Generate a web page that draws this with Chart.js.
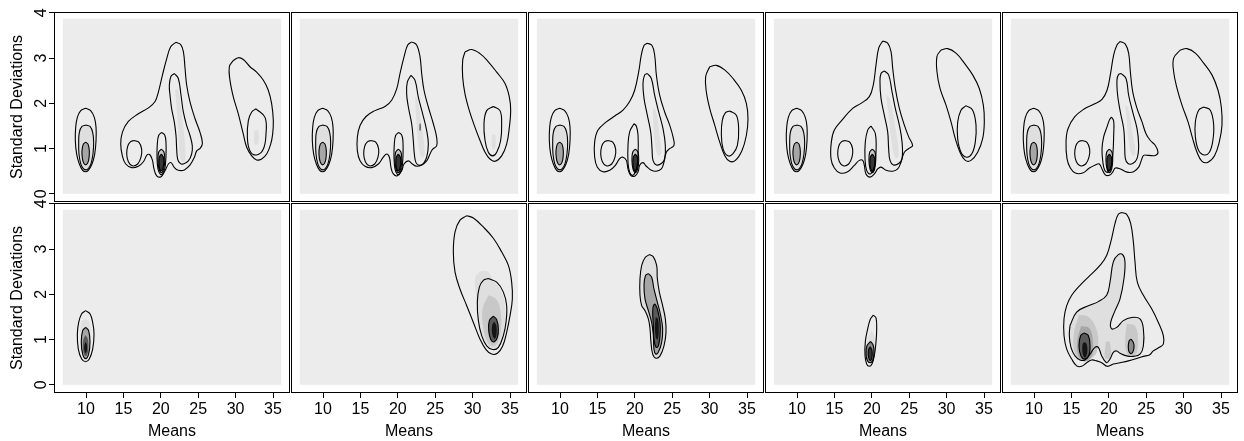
<!DOCTYPE html>
<html><head><meta charset="utf-8">
<script src="https://cdn.jsdelivr.net/npm/chart.js@4.4.1/dist/chart.umd.min.js"></script>
<style>
html,body{margin:0;padding:0;background:#fff;}
#wrap{position:relative;width:1244px;height:441px;overflow:hidden;background:#fff;}
#wrap canvas{position:absolute;}
</style></head><body><div id="wrap"></div>
<script>
// ---------- axes ----------
const xTicks = [10, 15, 20, 25, 30, 35];
const yTicks = [0, 1, 2, 3, 4];
const xRange = [5.72, 37.27];
const yRange = [-0.18, 4.02];
const gridExtentX = [6.9, 36.1];
const gridExtentY = [0, 3.87];
const xTitle = 'Means';
const yTitle = 'Standard Deviations';

// ---------- top row: contours shared by all five panels ----------
const topBlob10Outer = [[9.95,1.89],[10.62,1.84],[11.11,1.69],[11.34,1.47],[11.34,1.18],[11.16,0.88],[10.80,0.66],[10.31,0.52],[9.95,0.49],[9.55,0.52],[9.11,0.66],[8.75,0.88],[8.57,1.18],[8.62,1.47],[8.84,1.69],[9.29,1.84]];
const topBlob10Mid = [[10.00,1.52],[10.53,1.49],[10.89,1.36],[11.02,1.14],[10.93,0.88],[10.67,0.67],[10.31,0.56],[10.00,0.53],[9.64,0.56],[9.29,0.67],[9.06,0.88],[9.02,1.14],[9.11,1.36],[9.46,1.49]];
const topBlob10Inner = [[9.95,1.14],[10.27,1.10],[10.44,0.95],[10.40,0.79],[10.22,0.68],[9.95,0.64],[9.69,0.68],[9.51,0.79],[9.46,0.95],[9.64,1.10]];
const topLeftLoop = [[16.42,1.18],[17.08,1.14],[17.44,0.99],[17.35,0.81],[16.91,0.66],[16.19,0.62],[15.66,0.71],[15.44,0.88],[15.57,1.05],[15.93,1.15]];
const topBlob20Mid = [[20.07,0.99],[20.43,0.92],[20.52,0.73],[20.38,0.55],[20.07,0.47],[19.76,0.55],[19.62,0.73],[19.71,0.92]];
const topBlob20Inner = [[20.07,0.88],[20.34,0.81],[20.38,0.66],[20.25,0.55],[20.07,0.51],[19.85,0.55],[19.76,0.66],[19.80,0.81]];

// ---------- panel 1 ----------
const p1BigOuter = [[21.99,3.35],[22.66,3.30],[23.02,3.14],[23.24,2.77],[23.46,2.40],[23.91,2.03],[24.58,1.66],[25.24,1.36],[25.56,1.12],[25.29,1.01],[24.80,0.95],[24.49,0.81],[23.91,0.64],[23.15,0.53],[22.35,0.52],[21.81,0.58],[21.37,0.69],[21.01,0.66],[20.56,0.51],[20.03,0.38],[19.45,0.40],[19.09,0.55],[18.87,0.75],[18.51,0.87],[18.16,0.86],[17.67,0.71],[17.00,0.61],[16.11,0.58],[15.31,0.66],[14.86,0.84],[14.64,1.10],[14.86,1.36],[15.66,1.60],[17.00,1.77],[18.34,1.90],[19.23,2.04],[19.67,2.25],[20.21,2.62],[20.79,2.99],[21.32,3.25]];
const p1Blob20Outer = [[20.11,1.36],[20.52,1.30],[20.69,1.14],[20.69,0.84],[20.56,0.58],[20.25,0.45],[19.94,0.43],[19.62,0.55],[19.49,0.81],[19.53,1.10],[19.71,1.29]];
const p1LongInner = [[21.81,2.66],[22.34,2.55],[22.70,2.18],[23.01,1.81],[23.46,1.51],[23.90,1.29],[24.21,1.06],[24.12,0.88],[23.68,0.73],[23.01,0.66],[22.56,0.68],[22.25,0.77],[22.12,0.99],[22.03,1.29],[21.81,1.58],[21.45,1.88],[21.23,2.18],[21.14,2.40],[21.36,2.60]];
const p1RightOuter = [[29.70,2.95],[30.36,3.01],[31.03,2.97],[31.92,2.81],[32.81,2.69],[33.71,2.51],[34.37,2.29],[34.82,1.99],[35.04,1.62],[34.95,1.32],[34.69,1.10],[34.15,0.88],[33.48,0.77],[32.81,0.75],[32.15,0.84],[31.48,1.03],[31.03,1.32],[30.36,1.77],[29.70,2.14],[29.25,2.51],[29.16,2.81]];
const p1RightInner = [[32.73,1.88],[33.93,1.69],[34.06,1.32],[33.71,0.99],[32.81,0.86],[31.92,0.95],[31.57,1.25],[31.70,1.62],[32.15,1.81]];
const p1Strip = [[21.9,2.3],[22.3,2.3],[22.9,1.6],[23.3,0.9],[23.1,0.7],[22.6,0.8],[22.3,1.5]];
const p1RightPatch = [[32.5,1.4],[33.0,1.4],[33.0,1.1],[32.5,1.1]];

// ---------- panel 2 ----------
const p2BigOuter = [[21.85,3.36],[22.52,3.29],[22.97,3.03],[23.19,2.66],[23.50,2.29],[24.08,1.92],[24.75,1.55],[25.19,1.25],[25.19,1.06],[24.66,0.99],[24.30,0.88],[23.86,0.73],[23.19,0.64],[22.52,0.61],[21.94,0.66],[21.41,0.73],[20.83,0.66],[20.52,0.51],[19.94,0.40],[19.40,0.44],[19.09,0.58],[18.87,0.81],[18.51,0.88],[18.06,0.81],[17.40,0.66],[16.50,0.58],[15.61,0.61],[14.95,0.73],[14.59,0.95],[14.59,1.25],[14.95,1.51],[15.75,1.71],[16.95,1.84],[18.29,1.93],[19.18,2.07],[19.85,2.32],[20.29,2.66],[20.83,3.03],[21.32,3.29]];
const p2LongInner = [[21.76,2.62],[22.30,2.51],[22.74,2.14],[23.32,1.77],[23.86,1.40],[24.08,1.10],[23.86,0.81],[23.41,0.67],[22.88,0.63],[22.43,0.69],[22.21,0.88],[22.07,1.18],[21.85,1.55],[21.41,1.92],[21.18,2.21],[21.27,2.47]];
const p2RightOuter = [[28.98,3.14],[29.87,3.19],[30.99,3.10],[32.10,2.92],[33.22,2.69],[34.33,2.44],[34.91,2.14],[35.09,1.84],[34.91,1.47],[34.55,1.10],[33.88,0.84],[32.99,0.72],[32.32,0.77],[31.66,0.92],[30.99,1.18],[30.32,1.47],[29.56,1.84],[28.98,2.21],[28.67,2.58],[28.67,2.95]];
const p2RightInner = [[32.77,1.93],[33.66,1.84],[33.88,1.55],[33.75,1.18],[33.22,0.92],[32.68,0.84],[32.10,0.92],[31.66,1.18],[31.52,1.55],[31.88,1.84]];
const p2Strip = [[22.3,2.14],[22.6,2.1],[23.2,1.5],[23.6,0.9],[23.2,0.8],[22.8,1.0],[22.5,1.6]];
const p2Spot = [[22.9,1.55],[23.05,1.55],[23.05,1.4],[22.9,1.4]];
const p2RightPatch = [[32.6,1.3],[33.0,1.3],[33.0,1.0],[32.6,1.0]];

// ---------- panel 3 ----------
const p3BigOuter = [[21.67,3.33],[22.30,3.28],[22.65,3.07],[22.88,2.63],[23.32,2.18],[23.99,1.81],[24.66,1.52],[25.11,1.26],[25.24,1.07],[24.66,1.00],[24.21,0.92],[23.90,0.70],[23.55,0.55],[22.88,0.50],[22.21,0.52],[21.54,0.61],[21.09,0.69],[20.65,0.63],[20.43,0.48],[19.98,0.39],[19.45,0.41],[19.09,0.55],[18.87,0.74],[18.42,0.81],[17.97,0.78],[17.40,0.63],[16.64,0.52],[15.75,0.49],[14.99,0.59],[14.63,0.81],[14.63,1.15],[15.08,1.41],[16.19,1.59],[17.31,1.72],[18.42,1.85],[19.31,2.04],[19.98,2.29],[20.52,2.70],[20.87,3.07],[21.23,3.28]];
const p3Blob20Outer = [[19.89,1.55],[20.20,1.50],[20.43,1.30],[20.43,0.85],[20.20,0.55],[19.76,0.41],[19.31,0.48],[19.09,0.70],[19.09,1.07],[19.31,1.37]];
const p3LongInner = [[21.67,2.66],[22.21,2.55],[22.65,2.18],[23.19,1.81],[23.77,1.44],[24.08,1.07],[23.99,0.78],[23.55,0.67],[22.88,0.64],[22.43,0.74],[22.30,1.00],[22.12,1.37],[21.67,1.74],[21.23,2.11],[21.09,2.44],[21.32,2.63]];
const p3RightOuter = [[30.01,2.81],[30.90,2.84],[32.01,2.74],[33.13,2.55],[34.24,2.29],[34.91,2.00],[35.13,1.66],[34.91,1.29],[34.33,0.96],[33.44,0.74],[32.68,0.72],[32.01,0.85],[31.34,1.15],[30.68,1.52],[30.01,1.89],[29.56,2.26],[29.47,2.59]];
const p3RightInner = [[32.68,1.83],[33.57,1.74],[33.88,1.44],[33.71,1.07],[33.13,0.89],[32.45,0.84],[31.79,1.00],[31.57,1.33],[31.70,1.63],[32.10,1.79]];
const p3Strip = [[22.4,1.9],[22.8,1.85],[23.3,1.3],[23.55,0.9],[23.1,0.85],[22.7,1.1],[22.5,1.5]];

// ---------- panel 4 ----------
const p4BigOuter = [[21.45,3.38],[22.12,3.33],[22.56,3.15],[22.79,2.78],[23.14,2.33],[23.68,1.89],[24.35,1.52],[24.93,1.26],[25.46,1.07],[25.02,1.01],[24.35,0.92],[23.90,0.70],[23.46,0.55],[22.79,0.50],[21.90,0.52],[21.23,0.59],[20.78,0.55],[20.34,0.44],[19.76,0.37],[19.22,0.44],[19.00,0.63],[18.78,0.74],[18.33,0.74],[17.66,0.63],[16.77,0.49],[15.75,0.46],[14.99,0.57],[14.54,0.78],[14.59,1.15],[14.99,1.41],[16.01,1.63],[17.44,1.89],[18.55,2.00],[19.67,2.15],[20.20,2.41],[20.56,2.85],[20.92,3.22]];
const p4Blob20Outer = [[19.89,1.50],[20.47,1.33],[20.56,0.92],[20.34,0.59],[19.80,0.44],[19.31,0.52],[19.09,0.78],[19.13,1.15],[19.45,1.41]];
const p4LongInner = [[21.67,2.72],[22.25,2.63],[22.70,2.26],[23.14,1.89],[23.68,1.52],[24.04,1.15],[24.04,0.78],[23.59,0.67],[22.88,0.64],[22.43,0.74],[22.25,1.00],[22.12,1.37],[21.67,1.74],[21.23,2.11],[21.09,2.48],[21.23,2.66]];
const p4RightOuter = [[29.25,3.18],[30.14,3.21],[31.25,3.11],[32.37,2.89],[33.48,2.63],[34.37,2.33],[34.91,1.96],[35.04,1.59],[34.82,1.22],[34.15,0.92],[33.26,0.74],[32.50,0.74],[31.79,0.92],[31.16,1.22],[30.59,1.59],[29.92,1.96],[29.12,2.33],[28.71,2.70],[28.71,3.04]];
const p4RightInner = [[32.59,1.95],[33.48,1.85],[33.93,1.52],[33.84,1.15],[33.39,0.89],[32.68,0.81],[31.92,0.92],[31.48,1.22],[31.48,1.59],[31.92,1.85]];
const p4Strip = [[21.9,2.2],[22.4,2.1],[23.2,1.4],[23.6,0.85],[23.1,0.8],[22.6,1.2],[22.2,1.8]];

// ---------- panel 5 ----------
const p5BigOuter = [[21.54,3.37],[22.21,3.31],[22.65,3.11],[22.88,2.70],[23.19,2.26],[23.77,1.89],[24.44,1.59],[24.97,1.33],[25.55,1.18],[26.22,1.07],[26.58,0.92],[26.22,0.85],[25.33,0.85],[24.66,0.85],[24.35,0.74],[23.99,0.59],[23.32,0.49],[22.43,0.48],[21.54,0.55],[20.87,0.57],[20.52,0.48],[20.07,0.41],[19.53,0.42],[19.09,0.55],[18.73,0.66],[18.20,0.64],[17.40,0.57],[16.50,0.46],[15.52,0.46],[14.86,0.57],[14.41,0.78],[14.28,1.15],[14.54,1.44],[15.43,1.70],[16.64,1.87],[17.97,1.98],[19.09,2.09],[19.76,2.29],[20.20,2.63],[20.65,3.07],[21.09,3.29]];
const p5Blob20Outer = [[20.34,1.70],[20.65,1.61],[20.65,1.29],[20.56,0.92],[20.34,0.63],[19.89,0.48],[19.45,0.52],[19.18,0.74],[19.09,1.00],[19.31,1.26],[19.76,1.48],[20.07,1.63]];
const p5LongInner = [[21.67,2.66],[22.30,2.55],[22.65,2.18],[23.19,1.81],[23.77,1.44],[23.99,1.07],[23.77,0.78],[23.19,0.67],[22.56,0.67],[22.21,0.78],[22.12,1.07],[21.99,1.44],[21.54,1.81],[21.18,2.18],[21.09,2.52],[21.32,2.64]];
const p5RightOuter = [[29.56,3.18],[30.45,3.21],[31.57,3.11],[32.68,2.89],[33.79,2.63],[34.60,2.29],[35.04,1.92],[35.13,1.52],[34.77,1.15],[34.15,0.85],[33.26,0.70],[32.46,0.72],[31.79,0.92],[31.21,1.22],[30.59,1.59],[29.78,1.96],[29.12,2.33],[28.67,2.70],[28.67,3.00]];
const p5RightInner = [[32.68,1.92],[33.57,1.85],[34.02,1.52],[33.88,1.15],[33.44,0.92],[32.77,0.86],[32.01,0.96],[31.57,1.26],[31.57,1.59],[32.01,1.85]];
const p5Strip = [[22.2,1.96],[22.6,1.9],[23.2,1.3],[23.55,0.9],[23.1,0.85],[22.6,1.2],[22.4,1.6]];

// ---------- panel 6 ----------
const p6Outer = [[9.95,1.64],[10.53,1.57],[10.89,1.38],[11.07,1.12],[10.89,0.79],[10.44,0.57],[9.95,0.51],[9.42,0.57],[8.97,0.79],[8.84,1.12],[9.02,1.38],[9.42,1.57]];
const p6Inner = [[9.95,1.27],[10.35,1.20],[10.53,0.94],[10.35,0.68],[9.95,0.58],[9.55,0.68],[9.37,0.94],[9.55,1.20]];
const p6Light = [[9.9,1.45],[10.4,1.4],[10.6,1.1],[10.4,0.8],[9.9,0.7],[9.4,0.8],[9.25,1.1],[9.4,1.4]];
const p6Dark = [[9.95,1.1],[10.25,1.0],[10.3,0.8],[10.1,0.65],[9.8,0.65],[9.6,0.8],[9.65,1.0]];
const p6Core = [[9.95,0.95],[10.12,0.88],[10.12,0.76],[9.95,0.7],[9.78,0.76],[9.78,0.88]];

// ---------- panel 7 ----------
const p7Outer = [[29.21,3.74],[30.10,3.69],[31.43,3.49],[32.77,3.24],[33.88,2.94],[34.78,2.64],[35.22,2.27],[35.31,1.90],[35.00,1.53],[34.55,1.16],[34.02,0.86],[33.31,0.70],[32.55,0.68],[31.79,0.78],[30.99,1.01],[30.10,1.38],[29.21,1.75],[28.31,2.12],[27.65,2.49],[27.42,2.94],[27.65,3.38],[28.31,3.64]];
const p7Mid = [[32.10,2.35],[33.22,2.27],[34.11,2.05],[34.55,1.75],[34.46,1.38],[34.11,1.09],[33.44,0.83],[32.68,0.78],[31.88,0.86],[31.21,1.09],[30.77,1.42],[30.63,1.83],[30.90,2.16],[31.43,2.31]];
const p7Inner = [[32.77,1.52],[33.22,1.44],[33.44,1.24],[33.31,1.05],[32.86,0.95],[32.41,1.01],[32.15,1.20],[32.24,1.42]];
const p7Light = [[30.99,2.51],[31.97,2.51],[32.77,2.31],[33.88,2.05],[34.33,1.68],[34.20,1.24],[33.66,0.90],[32.77,0.81],[31.88,0.90],[31.21,1.16],[30.77,1.53],[30.45,1.98],[30.32,2.35]];
const p7Glow = [[32.10,1.98],[33.13,1.90],[33.75,1.61],[33.75,1.16],[33.22,0.90],[32.55,0.85],[31.88,0.98],[31.43,1.27],[31.34,1.68]];
const p7Core = [[32.85,1.40],[33.15,1.32],[33.2,1.12],[32.95,1.02],[32.65,1.1],[32.6,1.3]];

// ---------- panel 8 ----------
const p8Outer = [[21.94,2.88],[22.48,2.83],[22.92,2.64],[23.01,2.35],[23.28,2.05],[23.72,1.75],[24.08,1.46],[24.17,1.16],[23.90,0.86],[23.37,0.64],[22.83,0.59],[22.39,0.68],[22.16,0.94],[22.03,1.24],[21.81,1.46],[21.36,1.64],[20.92,1.75],[20.69,1.98],[20.69,2.35],[20.92,2.64],[21.36,2.81]];
const p8Mid = [[21.81,2.46],[22.25,2.38],[22.56,2.12],[23.01,1.83],[23.46,1.53],[23.72,1.24],[23.59,0.94],[23.14,0.72],[22.79,0.68],[22.56,0.79],[22.48,1.09],[22.25,1.38],[21.81,1.64],[21.36,1.90],[21.23,2.20],[21.41,2.41]];
const p8Inner = [[22.70,1.79],[23.01,1.68],[23.37,1.38],[23.37,1.09],[23.14,0.86],[22.83,0.83],[22.56,1.01],[22.48,1.31],[22.39,1.60],[22.48,1.75]];
const p8Core = [[22.8,1.5],[23.1,1.45],[23.2,1.2],[23.05,1.0],[22.8,1.05],[22.7,1.3]];

// ---------- panel 9 ----------
const p9Outer = [[20.20,1.54],[20.56,1.48],[20.65,1.24],[20.56,0.95],[20.34,0.65],[20.02,0.46],[19.67,0.41],[19.31,0.46],[19.09,0.65],[19.13,0.95],[19.45,1.24],[19.80,1.45]];
const p9Mid = [[19.85,0.96],[20.20,0.87],[20.29,0.69],[20.11,0.54],[19.76,0.49],[19.40,0.54],[19.22,0.69],[19.36,0.87]];
const p9Inner = [[19.80,0.84],[20.02,0.76],[20.02,0.61],[19.80,0.54],[19.58,0.61],[19.54,0.76]];
const p9Light = [[19.9,1.2],[20.3,1.1],[20.4,0.7],[20.1,0.5],[19.7,0.48],[19.35,0.6],[19.4,0.95]];

// ---------- panel 10 ----------
const p10Outer = [[21.72,3.81],[22.39,3.77],[22.92,3.57],[23.28,3.16],[23.50,2.72],[23.81,2.27],[24.62,1.98],[25.73,1.68],[26.62,1.38],[27.29,1.09],[27.29,0.90],[26.75,0.83],[25.95,0.75],[25.42,0.66],[24.62,0.63],[23.50,0.57],[22.61,0.53],[21.50,0.49],[20.60,0.46],[19.80,0.41],[19.05,0.49],[18.38,0.53],[17.71,0.55],[17.04,0.49],[16.37,0.41],[15.70,0.42],[15.04,0.57],[14.37,0.79],[14.01,1.09],[14.01,1.46],[14.37,1.75],[15.04,1.98],[16.15,2.20],[17.49,2.42],[18.82,2.64],[19.71,2.86],[20.38,3.24],[20.83,3.57],[21.27,3.77]];
const p10Mid = [[14.81,1.31],[15.70,1.61],[17.26,1.75],[18.60,1.84],[19.71,1.98],[20.16,2.27],[20.60,2.72],[21.27,2.88],[21.85,2.88],[22.16,2.72],[22.03,2.35],[21.50,1.90],[20.83,1.64],[20.25,1.38],[20.38,1.24],[21.05,1.27],[21.94,1.42],[23.05,1.49],[24.17,1.46],[24.62,1.24],[24.62,0.86],[24.17,0.68],[23.28,0.63],[22.39,0.64],[21.50,0.70],[21.05,0.75],[20.60,0.72],[20.16,0.57],[19.71,0.49],[19.05,0.64],[18.60,0.83],[18.15,0.83],[17.49,0.68],[16.81,0.55],[16.15,0.55],[15.48,0.64],[14.94,0.83],[14.72,1.09]];
const p10LeftInner = [[16.73,1.15],[17.26,1.09],[17.49,0.86],[17.35,0.66],[16.81,0.57],[16.28,0.64],[16.01,0.86],[16.24,1.09]];
const p10RightInner = [[22.97,1.01],[23.28,0.94],[23.37,0.83],[23.19,0.72],[22.92,0.69],[22.66,0.75],[22.61,0.88],[22.74,0.98]];
const p10LeftGlow = [[16.0,1.55],[17.3,1.5],[18.4,1.2],[18.5,0.8],[17.8,0.6],[16.5,0.55],[15.5,0.7],[15.3,1.1]];
const p10LeftGlow2 = [[16.3,1.3],[17.4,1.25],[17.9,0.9],[17.6,0.6],[16.6,0.52],[15.9,0.65],[15.8,1.0]];
const p10RightGlow = [[22.4,1.35],[23.5,1.3],[23.9,1.0],[23.7,0.7],[22.9,0.62],[22.3,0.75],[22.2,1.05]];
const p10CenterSpot = [[19.6,0.95],[20.1,0.95],[20.2,0.6],[19.5,0.6]];
const p10LeftCore = [[16.75,0.95],[17.05,0.9],[17.1,0.7],[16.8,0.6],[16.5,0.7],[16.5,0.9]];

// ---------- styling (kept apart from the data) ----------
const shade = { bg:'#ececec', g1:'#dfdfdf', g2:'#c8c8c8', g3:'#a6a6a6', g4:'#8a8a8a', g5:'#5a5a5a', g6:'#363636', g7:'#141414' };
const FONT = "'Liberation Sans', Arial, Helvetica, sans-serif";
const PITCH = 237, PW = 236, PH = 190, LEFT0 = 54, TOPS = [12, 203];
const YAXIS_W = 54, XAXIS_H = 48, PADT = 9;

const topShared = (blob20Outer) => [topBlob10Outer, topBlob10Mid, topBlob10Inner, topLeftLoop, blob20Outer, topBlob20Mid, topBlob20Inner];
const topFills = [['g1', topBlob10Mid], ['g3', topBlob10Inner], ['g2', topBlob20Mid], ['g6', topBlob20Inner]];

const panels = [
  { fills: [...topFills, ['g1', p1Strip], ['g1', p1RightPatch]],
    lines: [...topShared(p1Blob20Outer), p1BigOuter, p1LongInner, p1RightOuter, p1RightInner] },
  { fills: [...topFills, ['g1', p2Strip], ['g5', p2Spot], ['g1', p2RightPatch]],
    lines: [...topShared(p1Blob20Outer), p2BigOuter, p2LongInner, p2RightOuter, p2RightInner] },
  { fills: [...topFills, ['g1', p3Strip]],
    lines: [...topShared(p3Blob20Outer), p3BigOuter, p3LongInner, p3RightOuter, p3RightInner] },
  { fills: [...topFills, ['g1', p4Strip]],
    lines: [...topShared(p4Blob20Outer), p4BigOuter, p4LongInner, p4RightOuter, p4RightInner] },
  { fills: [...topFills, ['g1', p5Strip]],
    lines: [...topShared(p5Blob20Outer), p5BigOuter, p5LongInner, p5RightOuter, p5RightInner] },
  { fills: [['g1', p6Light], ['g3', p6Inner], ['g5', p6Dark], ['g7', p6Core]],
    lines: [p6Outer, p6Inner] },
  { fills: [['g1', p7Light], ['g2', p7Glow], ['g5', p7Inner], ['g7', p7Core]],
    lines: [p7Outer, p7Mid, p7Inner] },
  { fills: [['g1', p8Outer], ['g3', p8Mid], ['g5', p8Inner], ['g7', p8Core]],
    lines: [p8Outer, p8Mid, p8Inner] },
  { fills: [['g1', p9Light], ['g4', p9Mid], ['g6', p9Inner]],
    lines: [p9Outer, p9Mid, p9Inner] },
  { fills: [['g1', p10Mid], ['g2', p10LeftGlow], ['g3', p10LeftGlow2], ['g2', p10RightGlow], ['g2', p10CenterSpot], ['g5', p10LeftInner], ['g7', p10LeftCore], ['g4', p10RightInner]],
    lines: [p10Outer, p10Mid, p10LeftInner, p10RightInner] }
];

Chart.defaults.font.family = FONT;
Chart.defaults.font.size = 16;
Chart.defaults.color = '#000';
Chart.defaults.animation = false;

function ring(arr) {
  const pts = arr.map(p => ({x: p[0], y: p[1]}));
  pts.push({x: arr[0][0], y: arr[0][1]});
  return pts;
}
function fillSet(arr, color, tension) {
  return { data: ring(arr), fill: 'shape', backgroundColor: color, borderColor: 'rgba(0,0,0,0)', borderWidth: 0, pointRadius: 0, tension: tension };
}
function lineSet(arr) {
  return { data: ring(arr), fill: false, borderColor: '#000', borderWidth: 1.1, pointRadius: 0, tension: 0.4 };
}

const frame = {
  id: 'frame',
  afterDatasetsDraw(chart) {
    const a = chart.chartArea, ctx = chart.ctx;
    ctx.save();
    ctx.strokeStyle = '#000';
    ctx.lineWidth = 1;
    ctx.strokeRect(a.left + 0.5, a.top + 0.5, a.right - a.left - 1, a.bottom - a.top - 1);
    ctx.restore();
  }
};

const wrap = document.getElementById('wrap');
const bgRect = [[gridExtentX[0], gridExtentY[0]], [gridExtentX[1], gridExtentY[0]], [gridExtentX[1], gridExtentY[1]], [gridExtentX[0], gridExtentY[1]]];

panels.forEach((p, i) => {
  const r = Math.floor(i / 5), c = i % 5;
  const showY = c === 0, showX = r === 1;
  const areaLeft = LEFT0 + c * PITCH, areaTop = TOPS[r];
  const cw = PW + (showY ? YAXIS_W : 0), ch = PADT + PH + (showX ? XAXIS_H : 0);
  const cv = document.createElement('canvas');
  cv.width = cw; cv.height = ch;
  cv.style.left = (areaLeft - (showY ? YAXIS_W : 0)) + 'px';
  cv.style.top = (areaTop - PADT) + 'px';
  cv.style.width = cw + 'px'; cv.style.height = ch + 'px';
  wrap.appendChild(cv);

  const layers = [fillSet(bgRect, shade.bg, 0)];
  p.fills.forEach(([k, arr]) => layers.push(fillSet(arr, shade[k], 0.4)));
  p.lines.forEach(arr => layers.push(lineSet(arr)));
  const n = layers.length;
  layers.forEach((d, j) => { d.order = n - j; });

  new Chart(cv, {
    type: 'line',
    data: { datasets: layers },
    options: {
      responsive: false,
      animation: false,
      events: [],
      layout: { padding: { top: PADT, left: 0, right: 0, bottom: 0 }, autoPadding: false },
      plugins: { legend: { display: false }, tooltip: { enabled: false } },
      scales: {
        x: {
          type: 'linear', min: xRange[0], max: xRange[1], display: showX,
          afterBuildTicks: s => { s.ticks = xTicks.map(v => ({value: v})); },
          afterFit: s => { if (showX) { s.height = XAXIS_H; } s.paddingLeft = 0; s.paddingRight = 0; },
          grid: { drawOnChartArea: false, drawTicks: true, tickLength: 5, color: '#000', lineWidth: 1 },
          border: { display: false },
          ticks: { padding: 2, maxRotation: 0, minRotation: 0, autoSkip: false, font: { size: 16 }, color: '#000' },
          title: { display: true, text: xTitle, font: { size: 16 }, color: '#000', padding: { top: 0, bottom: 0 } }
        },
        y: {
          type: 'linear', min: yRange[0], max: yRange[1], display: showY,
          afterBuildTicks: s => { s.ticks = yTicks.map(v => ({value: v})); },
          afterFit: s => { if (showY) { s.width = YAXIS_W; } s.paddingTop = 0; s.paddingBottom = 0; },
          grid: { drawOnChartArea: false, drawTicks: true, tickLength: 5, color: '#000', lineWidth: 1 },
          border: { display: false },
          ticks: { padding: 3, minRotation: 90, maxRotation: 90, crossAlign: 'center', autoSkip: false, font: { size: 16 }, color: '#000' },
          title: { display: true, text: yTitle, font: { size: 16 }, color: '#000', padding: { top: 8, bottom: 0 } }
        }
      }
    },
    plugins: [frame]
  });
});
</script>
</body></html>
